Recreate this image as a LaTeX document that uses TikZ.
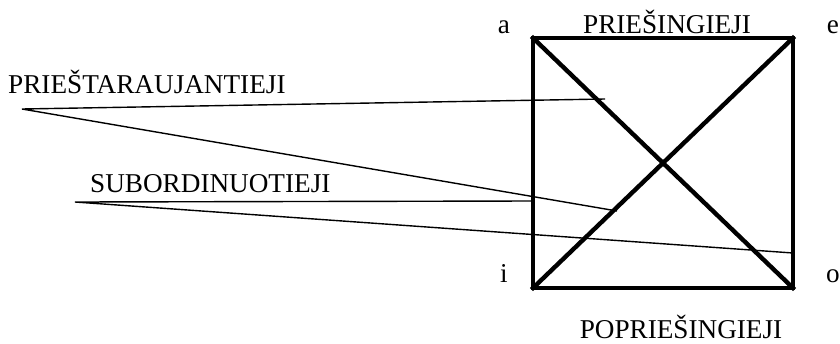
\documentclass[tikz,border=0pt]{standalone}
\usepackage{fontspec}
\setmainfont{Liberation Serif}
\usetikzlibrary{positioning}

\begin{document}
\begin{tikzpicture}[
    x=1pt, y=-1pt,
    lbl/.style={inner sep=0pt, anchor=base, font=\fontsize{27.2}{30}\selectfont},
    sqline/.style={line width=4.4pt, line cap=rect, black},
    thin/.style={line width=1.4pt, black},
  ]
    \useasboundingbox (0,0) rectangle (840,343);

    % square corners
    \coordinate (a) at (533,38);
    \coordinate (e) at (793,38);
    \coordinate (i) at (533,288);
    \coordinate (o) at (793,288);

    \node[lbl] (la) at (504,33) {a};
    \node[lbl] (le) at (833,33) {e};
    \node[lbl] (li) at (504,282) {i};
    \node[lbl] (lo) at (833,282) {o};
    \node[lbl] (contrary) at (667,33) {PRIEŠINGIEJI};
    \node[lbl] (subcontrary) at (681,338) {POPRIEŠINGIEJI};
    \node[lbl, anchor=base west] (contradictory) at (8,93) {PRIEŠTARAUJANTIEJI};
    \node[lbl, anchor=base west] (subaltern) at (90,192) {SUBORDINUOTIEJI};

    % pointer lines
    \coordinate (papex) at (22,109);
    \coordinate (pend1) at (605,99);
    \coordinate (pend2) at (617,211);
    \coordinate (sapex) at (75,202);
    \coordinate (send1) at (533,201);
    \coordinate (send2) at (793,253);

    \draw[thin] (pend1) -- (papex) -- (pend2);
    \draw[thin] (send1) -- (sapex) -- (send2);

    \draw[sqline] (a) -- (e) -- (o) -- (i) -- cycle;
    \draw[sqline] (a) -- (o);
    \draw[sqline] (e) -- (i);
  \end{tikzpicture}
\end{document}
